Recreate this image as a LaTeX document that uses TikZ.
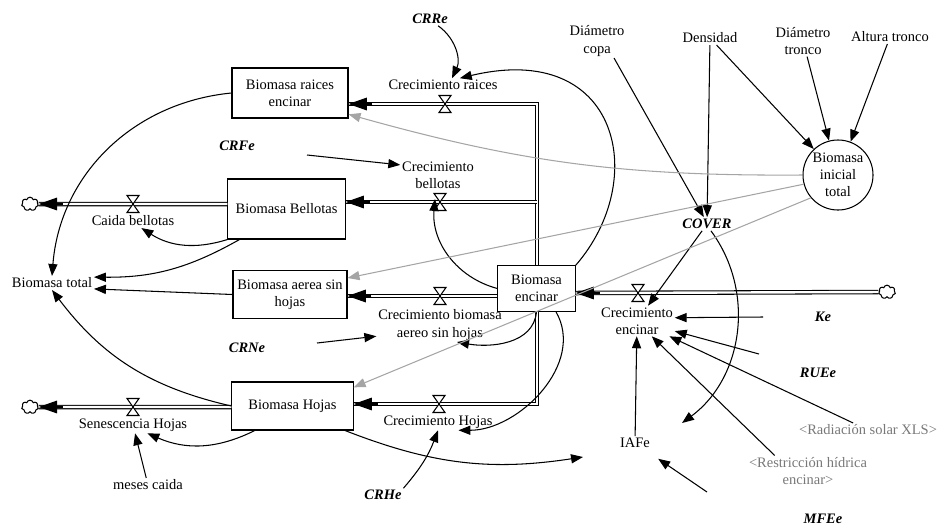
\documentclass[tikz,border=0pt]{standalone}
\usepackage{fontspec}
\setmainfont{Liberation Serif}
\usetikzlibrary{arrows.meta,shapes.symbols}
\definecolor{shadowGray}{RGB}{120,120,120}
\definecolor{linkGray}{RGB}{165,165,165}

\tikzset{
  stock/.style={draw, fill=white, align=center, inner sep=2pt},
  var/.style={align=center, inner sep=1pt},
  const/.style={var, font=\fontsize{10.3}{12.1}\selectfont\bfseries\itshape},
  shadowvar/.style={var, text=shadowGray},
  link/.style={-{Triangle[length=8.5pt,width=6.5pt]}},
  graylink/.style={link, color=linkGray},
  pipe/.style={double, double distance=1.7pt},
  pipehead/.style={-{Triangle[length=13pt,width=9pt]}},
  sink/.style={cloud, cloud puffs=7, aspect=1.3, draw, inner sep=0pt, minimum width=0.42cm, minimum height=0.34cm},
  valve/.pic={\draw[fill=white] (-6,8.5) -- (6,8.5) -- (-6,-8.5) -- (6,-8.5) -- cycle;}
}

\begin{document}
\begin{tikzpicture}[x=0.025cm, y=0.025cm, line width=0.75pt, font=\fontsize{10.3}{12.1}\selectfont]
\useasboundingbox (0,0) rectangle (939,-528);

% stocks
\node[stock, minimum width=2.9cm, minimum height=1.25cm] (raices) at (290,-93) {Biomasa raices\\encinar};
\node[stock, minimum width=2.93cm, minimum height=1.5cm] (bellotas) at (286.5,-209) {Biomasa Bellotas};
\node[stock, minimum width=2.85cm, minimum height=1.18cm] (aerea) at (290,-294.5) {Biomasa aerea sin\\hojas};
\node[stock, minimum width=3.03cm, minimum height=1.2cm] (hojas) at (292.5,-406) {Biomasa Hojas};
\node[circle, draw, minimum size=1.75cm, align=center, inner sep=0pt] (inicial) at (838,-175) {Biomasa\\inicial\\total};

% clouds
\node[sink] (cloudC) at (30,-204) {};
\node[sink] (cloudS) at (30,-407) {};
\node[sink] (cloudE) at (887,-292) {};

% valves
\coordinate (vR) at (445,-104);
\coordinate (vB) at (440,-202);
\coordinate (vA) at (440,-296);
\coordinate (vH) at (439,-404);
\coordinate (vE) at (638,-293);
\coordinate (vC) at (133,-204);
\coordinate (vS) at (133,-407);
\coordinate (cornerR) at (537,-104);
\coordinate (cornerH) at (537,-404);

% the main pipe runs behind Biomasa encinar
\draw[pipe] (vR -| raices.east) -- (cornerR) -- (cornerH) -- (vH -| hojas.east);
\draw[pipe] (vB -| cornerR) -- (vB -| bellotas.east);
\node[stock, minimum width=1.93cm, minimum height=1.13cm] (encinar) at (536.5,-288.5) {Biomasa\\encinar};

% flows
\draw[pipe] (vA -| encinar.west) -- (vA -| aerea.east);
\draw[pipe] (cloudE) -- (vE -| encinar.east);
\draw[pipe] (vC -| bellotas.west) -- (cloudC);
\draw[pipe] (vS -| hojas.west) -- (cloudS);
\draw[pipehead] ([xshift=17]vR -| raices.east) -- (vR -| raices.east);
\draw[pipehead] ([xshift=17]vB -| bellotas.east) -- (vB -| bellotas.east);
\draw[pipehead] ([xshift=17]vA -| aerea.east) -- (vA -| aerea.east);
\draw[pipehead] ([xshift=17]vH -| hojas.east) -- (vH -| hojas.east);
\draw[pipehead] ([xshift=17]vE -| encinar.east) -- (vE -| encinar.east);
\draw[pipehead] ([xshift=17]cloudC.east) -- (cloudC.east);
\draw[pipehead] ([xshift=17]cloudS.east) -- (cloudS.east);
\foreach \v in {vR,vB,vA,vH,vE,vC,vS}
  \pic at (\v) {valve};

% variables
\node[var] (crRaices) at (443,-85) {Crecimiento raices};
\node[var] (crBellotas) at (438,-175) {Crecimiento\\bellotas};
\node[var] (caida) at (133,-221) {Caida bellotas};
\node[var] (crAerea) at (440,-325) {Crecimiento biomasa\\aereo sin hojas};
\node[var] (crHojas) at (438,-422) {Crecimiento Hojas};
\node[var] (senescencia) at (133,-425) {Senescencia Hojas};
\node[var] (meses) at (148,-485) {meses caida};
\node[var] (total) at (52,-283) {Biomasa total};
\node[var] (crEncinar) at (637,-321) {Crecimiento\\encinar};
\node[var] (iafe) at (635,-443) {IAFe};
\node[var] (dcopa) at (597,-41) {Diámetro\\copa};
\node[var] (densidad) at (710,-38) {Densidad};
\node[var] (dtronco) at (803,-41) {Diámetro\\tronco};
\node[var] (altura) at (890,-37) {Altura tronco};
\node[const] (crre) at (430,-19) {CRRe};
\node[const] (crfe) at (237,-146) {CRFe};
\node[const] (crne) at (247,-348) {CRNe};
\node[const] (crhe) at (383,-495) {CRHe};
\node[const] (cover) at (707,-224) {COVER};
\node[const] (ke) at (823,-317) {Ke};
\node[const] (ruee) at (818,-373) {RUEe};
\node[const] (mfee) at (823,-519) {MFEe};
\node[shadowvar] (radiacion) at (868,-430) {<Radiación solar XLS>};
\node[shadowvar] (restriccion) at (808,-471) {<Restricción hídrica\\encinar>};

% loose connector ends
\coordinate (crfeTail) at (307,-155);
\coordinate (crneTail) at (317,-343);
\coordinate (keTail) at (763,-317);
\coordinate (rueeTail) at (759,-354);
\coordinate (mfeeTail) at (707,-492);
\coordinate (hojasIafeHead) at (583,-457);
\coordinate (coverIafeHead) at (682,-423);

% links
\draw[link] (raices.west) to[bend right=40] (total.north);
\draw[link] (bellotas.213) to[bend left=15] (total.8);
\draw[link] (aerea.west) -- (total.-8);
\draw[link] (hojas.west) to[bend left=20] (total.south);
\draw[link] (bellotas.south west) to[bend left=25] (caida.-40);
\draw[link] (hojas.213) to[bend left=25] (senescencia.-30);
\draw[link] (meses) -- (senescencia);
\draw[link] (crre.-40) to[bend left=40] (crRaices.37);
\draw[link] (encinar.north east) .. controls (650,-180) and (620,-40) .. (crRaices.22);
\draw[link] (encinar.west) to[out=165, in=-95] ([shift={(-5,3)}]vB);
\draw[link] (encinar.south) to[out=-95, in=-10] (crAerea.-45);
\draw[link] (encinar.-50) to[out=-60, in=0] (crHojas.-22);
\draw[link] (crfeTail) -- (crBellotas.165);
\draw[link] (crneTail) -- (crAerea.190);
\draw[link] (crhe.north east) to[bend right=10] (crHojas.south);
\draw[link] (hojas.-25) to[bend right=15] (hojasIafeHead);
\draw[link] (cover) -- (crEncinar);
\draw[link] (cover.-60) to[bend left=45] (coverIafeHead);
\draw[link] (dcopa.-45) -- (cover.115);
\draw[link] (densidad) -- (cover);
\draw[link] (densidad) -- (inicial);
\draw[link] (dtronco) -- (inicial);
\draw[link] (altura) -- (inicial);
\draw[link] (keTail) -- (crEncinar.5);
\draw[link] (rueeTail) -- (crEncinar.-15);
\draw[link] (radiacion) -- (crEncinar);
\draw[link] (restriccion.155) -- (crEncinar.-46);
\draw[link] (iafe) -- (crEncinar);
\draw[link, shorten >=0.4cm] (mfeeTail) -- (iafe);
\draw[graylink] (inicial.180) to[bend left=8] (raices.-20);
\draw[graylink] (inicial.195) -- (aerea.16);
\draw[graylink] (inicial.220) -- (hojas.17);
\end{tikzpicture}
\end{document}
